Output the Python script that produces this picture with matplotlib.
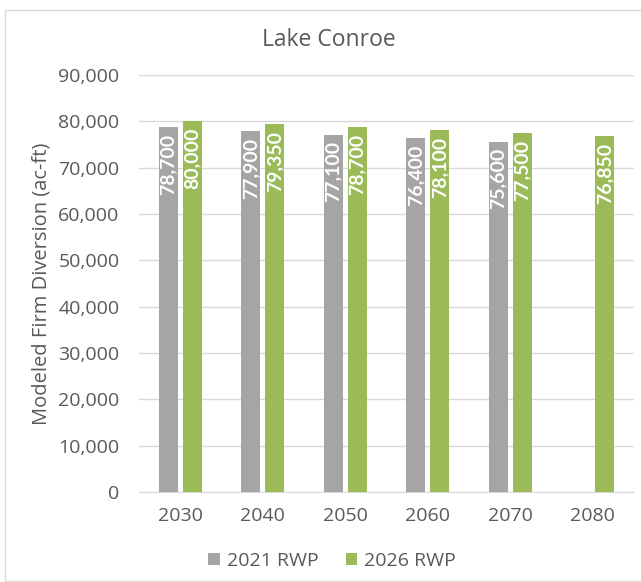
import matplotlib

matplotlib.use("Agg")
import matplotlib.pyplot as plt
import numpy as np
from matplotlib.patches import Rectangle

years = ["2030", "2040", "2050", "2060", "2070", "2080"]
rwp_2021 = [78700, 77900, 77100, 76400, 75600, np.nan]
rwp_2026 = [80000, 79350, 78700, 78100, 77500, 76850]

GRAY = "#a5a5a5"
GREEN = "#9bbb59"
TEXT = "#595959"

plt.rcParams["font.family"] = ["Open Sans", "DejaVu Sans"]

fig = plt.figure(figsize=(6.41, 5.82), dpi=100)
ax = fig.add_axes([139 / 641, 1 - 492 / 582, 495 / 641, 417 / 582])

# light chart border
fig.patches.append(Rectangle((5 / 641, 0.002), 1.0, 1 - 11 / 582, transform=fig.transFigure,
                             fill=False, edgecolor="#d9d9d9", linewidth=1.0))

x = np.arange(len(years))
w = 0.23
off = 0.145
b1 = ax.bar(x - off, rwp_2021, w, color=GRAY, label="2021 RWP", zorder=3)
b2 = ax.bar(x + off, rwp_2026, w, color=GREEN, label="2026 RWP", zorder=3)

for bars, vals in ((b1, rwp_2021), (b2, rwp_2026)):
    for rect, v in zip(bars, vals):
        if np.isnan(v):
            continue
        ax.text(rect.get_x() + rect.get_width() / 2, v - 1400, f"{v:,.0f}",
                rotation=90, ha="center", va="top", color="white",
                fontsize=14, fontweight="bold", family=["Lato", "DejaVu Sans"], zorder=4)

ax.set_xlim(-0.5, len(years) - 0.5)
ax.set_ylim(0, 90000)
ax.set_yticks(np.arange(0, 90001, 10000))
ax.yaxis.set_major_formatter(matplotlib.ticker.FuncFormatter(lambda v, p: f"{v:,.0f}"))
ax.set_xticks(x)
ax.set_xticklabels(years)
ax.grid(axis="y", color="#d9d9d9", linewidth=1.0, zorder=0)
for s in ("top", "right", "left"):
    ax.spines[s].set_visible(False)
ax.spines["bottom"].set_color("#d9d9d9")
ax.tick_params(axis="both", length=0, labelsize=14, colors=TEXT)
ax.tick_params(axis="y", pad=14)
ax.tick_params(axis="x", pad=11)
ax.set_ylabel("Modeled Firm Diversion (ac-ft)", fontsize=14.5, color=TEXT, labelpad=5)

fig.text(329 / 641, 1 - 40 / 582, "Lake Conroe", ha="center", va="center",
         fontsize=16.5, color=TEXT)

fig.legend(handles=[b1, b2], loc="center", bbox_to_anchor=(332 / 641, 1 - 561 / 582),
           ncol=2, frameon=False, fontsize=14, labelcolor=TEXT, handlelength=0.6,
           handleheight=0.6, columnspacing=1.4, handletextpad=0.35)

fig.savefig("out.png", dpi=100)
